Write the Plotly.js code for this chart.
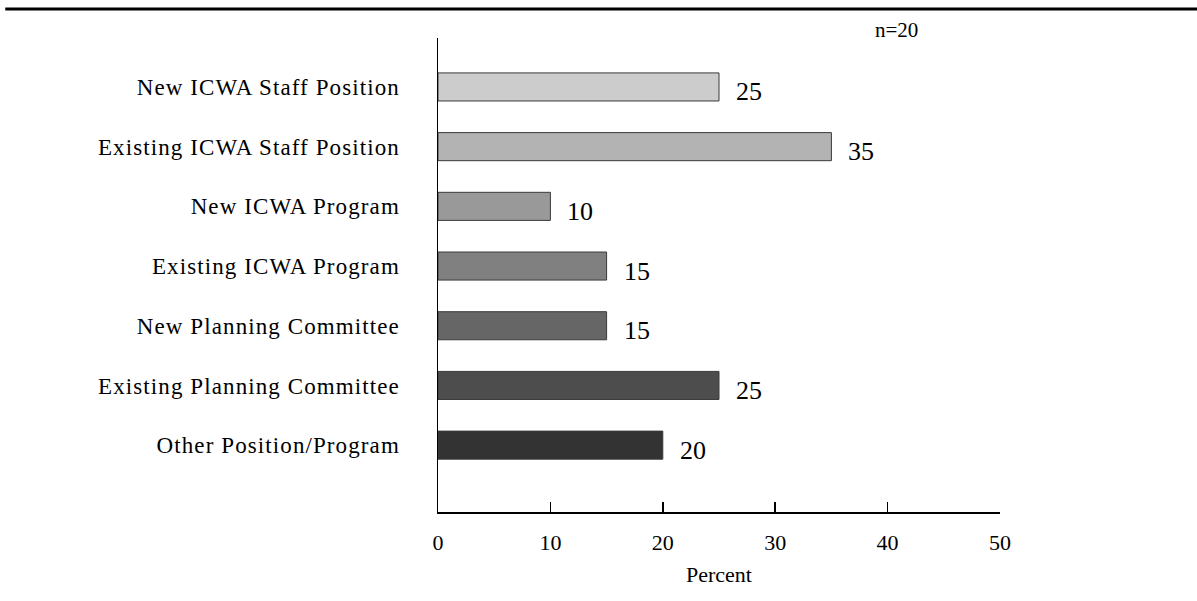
<!DOCTYPE html>
<html><head><meta charset="utf-8">
<script src="https://cdn.plot.ly/plotly-3.0.1.min.js"></script>
<style>
html,body{margin:0;padding:0;background:#fff;}
#chart{width:1197px;height:601px;}
#chart .yaxislayer-above text{letter-spacing:1.1px;}
</style>
</head><body><div id="chart"></div>
<script>
const categories = [
  "New ICWA Staff Position",
  "Existing ICWA Staff Position",
  "New ICWA Program",
  "Existing ICWA Program",
  "New Planning Committee",
  "Existing Planning Committee",
  "Other Position/Program"
];
const percents = [25, 35, 10, 15, 15, 25, 20];
const barColors = ["#cccccc", "#b3b3b3", "#999999", "#808080", "#666666", "#4d4d4d", "#333333"];
const xTicks = [0, 10, 20, 30, 40, 50];
const noteText = "n=20";

const serif = "Liberation Serif, Times New Roman, serif";

const trace = {
  type: "bar",
  orientation: "h",
  y: categories,
  x: percents,
  width: 0.47,
  marker: {color: barColors, line: {color: "#3a3a3a", width: 1}},
  hoverinfo: "none"
};

const annotations = categories.map((c, i) => ({
  x: percents[i], y: c, xref: "x", yref: "y",
  text: String(percents[i]), showarrow: false,
  xanchor: "left", yanchor: "middle", xshift: 15, yshift: -5,
  font: {family: serif, size: 26, color: "#000"}
}));
annotations.push({
  xref: "paper", yref: "paper", x: 0.815, y: 1.017, xanchor: "center", yanchor: "middle",
  text: noteText, showarrow: false, font: {family: serif, size: 21, color: "#000"}
});

const layout = {
  width: 1197, height: 601,
  margin: {l: 438, r: 197, t: 38, b: 89},
  paper_bgcolor: "#fff", plot_bgcolor: "#fff",
  showlegend: false,
  font: {family: serif, color: "#000"},
  xaxis: {
    range: [0, 50], tickvals: xTicks, ticktext: xTicks.map(String),
    showgrid: false, zeroline: false, showline: true, linecolor: "#000", linewidth: 1.5,
    ticks: "inside", ticklen: 10, tickcolor: "#000", tickwidth: 1.5,
    ticklabelstandoff: 10,
    tickfont: {family: serif, size: 22, color: "#000"},
    title: {text: "Percent", font: {family: serif, size: 22, color: "#000"}, standoff: 12}
  },
  yaxis: {
    type: "category", autorange: false, range: [7.12, -0.82],
    showgrid: false, zeroline: false, showline: true, linecolor: "#000", linewidth: 1.5,
    ticks: "", ticklabelstandoff: 32,
    tickfont: {family: serif, size: 23, color: "#000"}
  },
  annotations: annotations,
  shapes: [{
    type: "line", xref: "paper", yref: "paper",
    x0: -0.77, x1: 1.36, y0: 1.061, y1: 1.061,
    line: {color: "#000", width: 3}
  }]
};

Plotly.newPlot("chart", [trace], layout, {staticPlot: true, displayModeBar: false});
</script></body></html>
